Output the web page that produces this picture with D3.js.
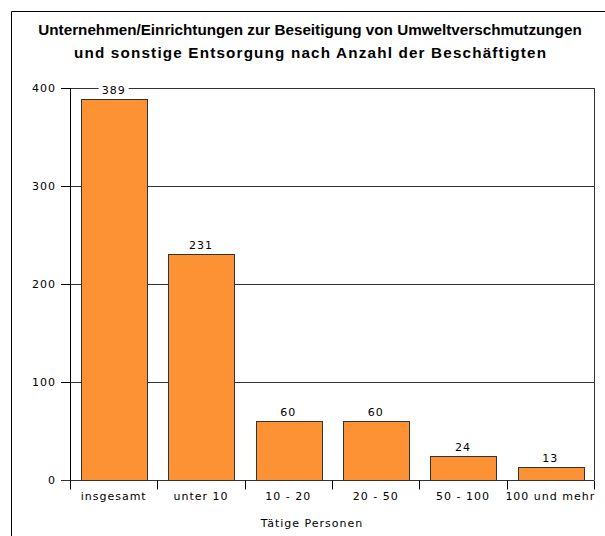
<!DOCTYPE html>
<head>
<meta charset="utf-8">
<title></title>
<style>

body {
  margin: 0;
  background: #fff;
}

text {
  fill: #000;
  font-family: "DejaVu Sans", sans-serif;
  font-size: 11px;
  letter-spacing: 1px;
}

text.title {
  font-family: "Liberation Sans", Arial, sans-serif;
  font-size: 15px;
  font-weight: bold;
  letter-spacing: 0px;
}

rect.bar {
  fill: #fd9235;
  stroke: #333;
  stroke-width: 1px;
}

line.grid {
  stroke: #333;
  stroke-width: 1px;
}

</style>
</head>

<body>
<script src="https://cdn.jsdelivr.net/npm/d3@7"></script>
<script>

// data
var categories = ["insgesamt", "unter 10", "10 - 20", "20 - 50", "50 - 100", "100 und mehr"];
var values = [389, 231, 60, 60, 24, 13];
var yTicks = [0, 100, 200, 300, 400];
var titleLines = [
  "Unternehmen/Einrichtungen zur Beseitigung von Umweltverschmutzungen",
  "und sonstige Entsorgung nach Anzahl der Beschäftigten"
];
var xTitle = "Tätige Personen";

var width = 605,
    height = 536;

var plot = {left: 70, right: 594, top: 88, bottom: 480};

var svg = d3.select("body").append("svg")
    .attr("width", width)
    .attr("height", height);

// outer frame (only left and top show inside the window)
svg.append("path")
    .attr("d", "M11.5," + height + "V11.5H" + width)
    .attr("fill", "none")
    .attr("stroke", "#000");

// title: narrow bold look, squeeze both lines by the same factor
var titleG = svg.append("g");
var title = titleG.selectAll("text.title")
    .data(titleLines)
    .enter().append("text")
    .attr("class", "title")
    .attr("x", 0)
    .attr("y", function(d, i) { return 35 + i * 23; })
    .attr("text-anchor", "middle")
    .text(function(d) { return d; });

var s = 544 / title.nodes()[0].getComputedTextLength();
titleG.attr("transform", "translate(310,0) scale(" + s + ",1)");
// second line is wider in the original: spread its letters
title.filter(function(d, i) { return i == 1; })
    .attr("textLength", 472 / s)
    .attr("lengthAdjust", "spacing");

var x = d3.scaleBand()
    .domain(categories)
    .range([plot.left, plot.right])
    .paddingInner(0.25)
    .paddingOuter(0.125);

var y = d3.scaleLinear()
    .domain([0, 400])
    .range([plot.bottom, plot.top]);

// gridlines
svg.append("g")
    .selectAll("line")
    .data(yTicks.filter(function(d) { return d > 0; }))
    .enter().append("line")
    .attr("class", "grid")
    .attr("x1", plot.left)
    .attr("x2", plot.right)
    .attr("y1", function(d) { return Math.round(y(d)) + 0.5; })
    .attr("y2", function(d) { return Math.round(y(d)) + 0.5; });

// right border of the plot
svg.append("line")
    .attr("x1", plot.right + 0.5)
    .attr("x2", plot.right + 0.5)
    .attr("y1", plot.top)
    .attr("y2", plot.bottom)
    .attr("stroke", "#333");

// bars
svg.append("g")
    .selectAll("rect")
    .data(values)
    .enter().append("rect")
    .attr("class", "bar")
    .attr("x", function(d, i) { return Math.round(x(categories[i])) + 0.5; })
    .attr("y", function(d) { return Math.round(y(d)) + 0.5; })
    .attr("width", Math.round(x.bandwidth()))
    .attr("height", function(d) { return Math.round(y(0)) - Math.round(y(d)); });

// value labels
var labels = svg.append("g")
    .selectAll("g")
    .data(values)
    .enter().append("g")
    .attr("transform", function(d, i) {
      return "translate(" + (x(categories[i]) + x.bandwidth() / 2) + "," + (y(d) - 5) + ")";
    });

labels.append("rect")
    .attr("x", -15)
    .attr("y", -11)
    .attr("width", 30)
    .attr("height", 13)
    .attr("fill", "#fff")
    .attr("opacity", function(d) { return y(d) - 5 < plot.top + 8 ? 1 : 0; });

labels.append("text")
    .attr("text-anchor", "middle")
    .text(function(d) { return d; });

// y axis
var yAxis = svg.append("g")
    .attr("transform", "translate(" + plot.left + ",0)")
    .call(d3.axisLeft(y).tickValues(yTicks).tickSize(9).tickPadding(5));

yAxis.select(".domain").remove();
yAxis.append("line")
    .attr("x1", 0.5).attr("x2", 0.5)
    .attr("y1", plot.top).attr("y2", plot.bottom + 9)
    .attr("stroke", "#000");

yAxis.selectAll("text")
    .style("font-family", "DejaVu Sans, sans-serif")
    .style("font-size", "11px");

// x axis
var xAxis = svg.append("g")
    .attr("transform", "translate(0," + (plot.bottom + 0.5) + ")");

xAxis.append("line")
    .attr("x1", plot.left - 9).attr("x2", plot.right)
    .attr("stroke", "#333");

xAxis.selectAll("line.tick")
    .data(categories.concat([null]))
    .enter().append("line")
    .attr("class", "tick")
    .attr("x1", function(d, i) { return Math.round(plot.left + i * x.step()) + 0.5; })
    .attr("x2", function(d, i) { return Math.round(plot.left + i * x.step()) + 0.5; })
    .attr("y1", 0)
    .attr("y2", 9)
    .attr("stroke", "#000");

xAxis.selectAll("text")
    .data(categories)
    .enter().append("text")
    .attr("x", function(d) { return x(d) + x.bandwidth() / 2; })
    .attr("y", 19)
    .attr("text-anchor", "middle")
    .text(function(d) { return d; });

svg.append("text")
    .attr("x", 312)
    .attr("y", 527)
    .attr("text-anchor", "middle")
    .text(xTitle);

</script>
</body>
</html>
